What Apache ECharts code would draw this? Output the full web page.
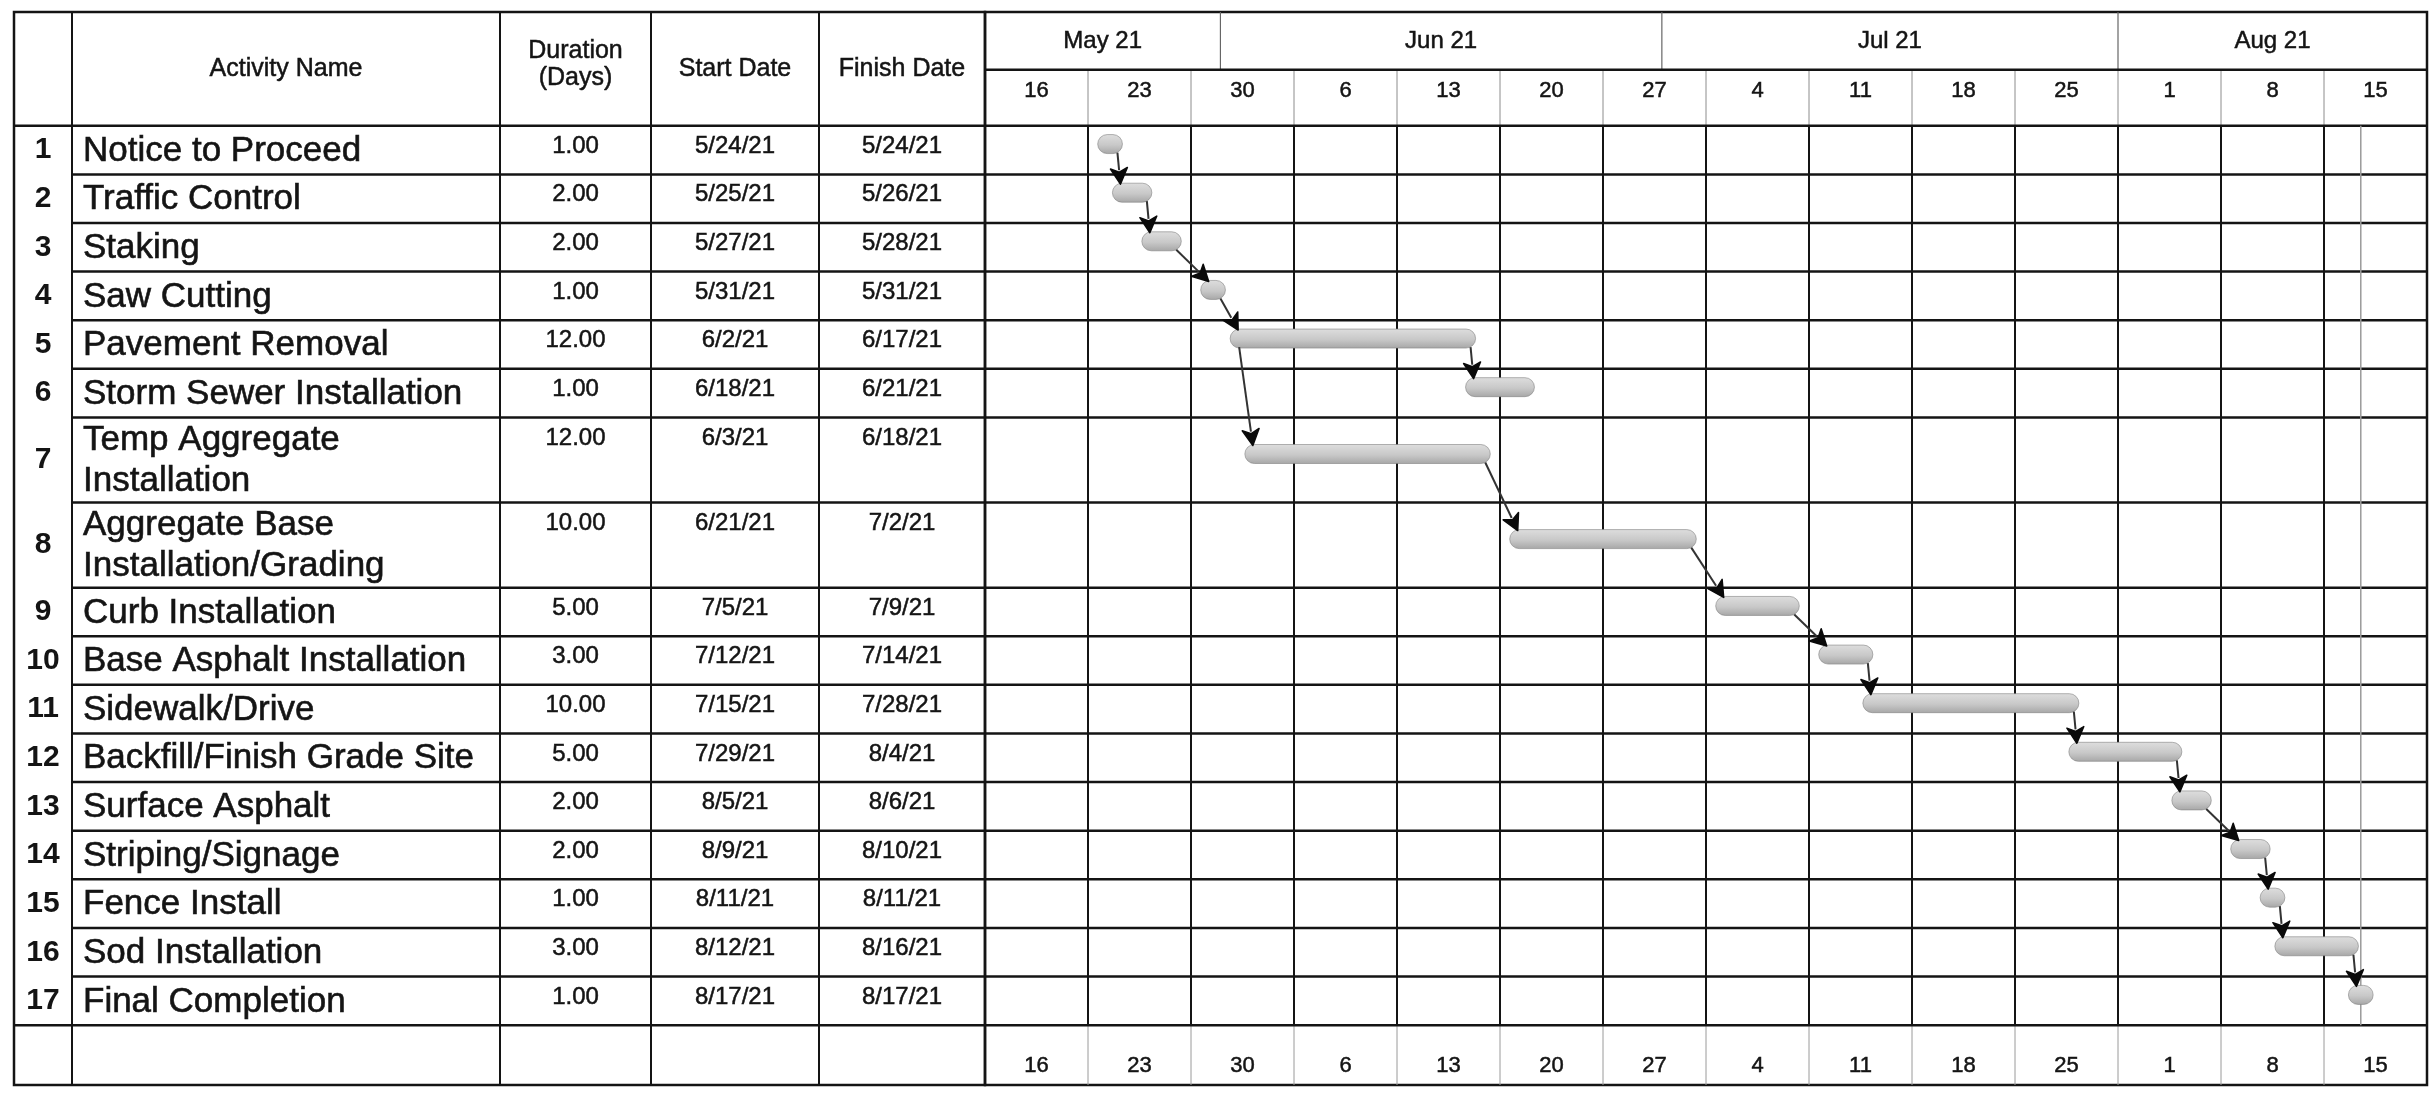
<!DOCTYPE html>
<html>
<head>
<meta charset="utf-8">
<title>Project Schedule</title>
<script src="https://cdn.jsdelivr.net/npm/echarts@6/dist/echarts.min.js"></script>
<style>
  html, body { margin: 0; padding: 0; background: #fff; }
  #chart { width: 2433px; height: 1097px; }
</style>
</head>
<body>
<div id="chart"></div>
<script>
var activityIds = [1, 2, 3, 4, 5, 6, 7, 8, 9, 10, 11, 12, 13, 14, 15, 16, 17];
var activityNames = [
  'Notice to Proceed', 'Traffic Control', 'Staking', 'Saw Cutting', 'Pavement Removal',
  'Storm Sewer Installation', 'Temp Aggregate\nInstallation', 'Aggregate Base\nInstallation/Grading',
  'Curb Installation', 'Base Asphalt Installation', 'Sidewalk/Drive', 'Backfill/Finish Grade Site',
  'Surface Asphalt', 'Striping/Signage', 'Fence Install', 'Sod Installation', 'Final Completion'
];
var durations = [1, 2, 2, 1, 12, 1, 12, 10, 5, 3, 10, 5, 2, 2, 1, 3, 1];
var startDates = ['5/24/21', '5/25/21', '5/27/21', '5/31/21', '6/2/21', '6/18/21', '6/3/21', '6/21/21', '7/5/21',
  '7/12/21', '7/15/21', '7/29/21', '8/5/21', '8/9/21', '8/11/21', '8/12/21', '8/17/21'];
var finishDates = ['5/24/21', '5/26/21', '5/28/21', '5/31/21', '6/17/21', '6/21/21', '6/18/21', '7/2/21', '7/9/21',
  '7/14/21', '7/28/21', '8/4/21', '8/6/21', '8/10/21', '8/11/21', '8/16/21', '8/17/21'];
// predecessor id (0 = none) and link type
var predecessors = [0, 1, 2, 3, 4, 5, 5, 7, 8, 9, 10, 11, 12, 13, 14, 15, 16];
var linkTypes = ['', 'FS', 'FS', 'FS', 'FS', 'FS', 'SS', 'FS', 'FS', 'FS', 'FS', 'FS', 'FS', 'FS', 'FS', 'FS', 'FS'];

var timelineStart = '5/16/21';
var timelineEnd = '8/22/21';
var weekLabels = ['16', '23', '30', '6', '13', '20', '27', '4', '11', '18', '25', '1', '8', '15'];
var monthLabels = ['May 21', 'Jun 21', 'Jul 21', 'Aug 21'];
var monthStarts = ['5/1/21', '6/1/21', '7/1/21', '8/1/21'];
var headerLabels = ['Activity Name', 'Duration\n(Days)', 'Start Date', 'Finish Date'];

// layout
var COL_EDGES = [0, 58, 486, 637, 805, 971];
var MONTH_BAND = 1.19, WEEK_BAND = 1.15, FOOTER_BAND = 1.23, TALL_ROW = 1.75;
var FONT = '"Liberation Sans", Arial, sans-serif';
var INK = '#141414';

function parseDate(s) {
  var p = s.split('/');
  return new Date(2000 + Number(p[2]), Number(p[0]) - 1, Number(p[1]));
}
var T0 = parseDate(timelineStart);
function dayOf(s) {
  return Math.round((parseDate(s) - T0) / 864e5);
}
var DAYS = dayOf(timelineEnd);

var HEADER_H = MONTH_BAND + WEEK_BAND;
var rowHeights = activityNames.map(function (n) { return n.indexOf('\n') >= 0 ? TALL_ROW : 1; });
var rowTops = [];
var acc = HEADER_H;
rowHeights.forEach(function (h) { rowTops.push(acc); acc += h; });
var BODY_END = acc;
var TOTAL = acc + FOOTER_BAND;
var TABLE_W = COL_EDGES[COL_EDGES.length - 1];
var colCenters = COL_EDGES.slice(1).map(function (e, i) { return (e + COL_EDGES[i]) / 2; });
var last = activityIds.length - 1;

function seg(api, a, b, w, c) {
  var p = api.coord(a), q = api.coord(b);
  return { type: 'line', shape: { x1: p[0], y1: p[1], x2: q[0], y2: q[1] }, style: { stroke: c || INK, lineWidth: w } };
}
function label(api, pt, text, opt) {
  var p = api.coord(pt);
  var style = {
    x: p[0], y: p[1], text: text, fill: INK, fontFamily: FONT, align: 'center', verticalAlign: 'middle',
    stroke: INK, lineWidth: 0.5
  };
  for (var k in opt) style[k] = opt[k];
  return { type: 'text', style: style };
}
function barGeom(api, i) {
  var x0 = api.coord([dayOf(startDates[i]), 0])[0] - 5;
  var x1 = api.coord([dayOf(finishDates[i]) + 1, 0])[0] + 5;
  var cy = api.coord([0, rowTops[i] + rowHeights[i] / 2])[1] - 6;
  return { x0: x0, x1: x1, cy: cy, h: 19 };
}

var barFill = new echarts.graphic.LinearGradient(0, 0, 0, 1, [
  { offset: 0, color: '#dedede' }, { offset: 0.55, color: '#c8c8c8' }, { offset: 1, color: '#a6a6a6' }
]);

var chart = echarts.init(document.getElementById('chart'));
chart.setOption({
  backgroundColor: '#fff',
  animation: false,
  grid: [
    { left: 14, top: 12, width: TABLE_W, height: 1073, show: true, borderColor: INK, borderWidth: 2.5 },
    { left: 14 + TABLE_W, top: 12, width: 1442, height: 1073, show: true, borderColor: INK, borderWidth: 2.5 }
  ],
  xAxis: [
    { gridIndex: 0, type: 'value', min: 0, max: TABLE_W, show: false },
    { gridIndex: 1, type: 'value', min: 0, max: DAYS, interval: 7, show: false }
  ],
  yAxis: [
    { gridIndex: 0, type: 'value', inverse: true, min: 0, max: TOTAL, show: false },
    { gridIndex: 1, type: 'value', inverse: true, min: 0, max: TOTAL, show: false }
  ],
  series: [
    {
      // table header and column rules
      type: 'custom', xAxisIndex: 0, yAxisIndex: 0, silent: true, z: 2,
      data: [0],
      renderItem: function (params, api) {
        var kids = [];
        COL_EDGES.slice(1, -1).forEach(function (x) { kids.push(seg(api, [x, 0], [x, TOTAL], 2)); });
        kids.push(seg(api, [0, HEADER_H], [TABLE_W, HEADER_H], 2.5));
        headerLabels.forEach(function (t, k) {
          var multi = t.indexOf('\n') >= 0;
          kids.push(label(api, [colCenters[k + 1], multi ? 1.08 : 1.17], t, { fontSize: 25, lineHeight: 27 }));
        });
        return { type: 'group', children: kids };
      }
    },
    {
      // table rows
      type: 'custom', xAxisIndex: 0, yAxisIndex: 0, silent: true, z: 2,
      data: activityIds.map(function (id, i) { return i; }),
      renderItem: function (params, api) {
        var i = params.dataIndex, top = rowTops[i], h = rowHeights[i];
        var mid = top + h / 2, dy = top + 0.42;
        return {
          type: 'group', children: [
            label(api, [colCenters[0], mid], String(activityIds[i]), { fontSize: 30, fontWeight: 'bold', lineWidth: 0 }),
            label(api, [COL_EDGES[1] + 11, mid + 0.02], activityNames[i], { fontSize: 35, align: 'left', lineHeight: 41, lineWidth: 0.6 }),
            label(api, [colCenters[2], dy], durations[i].toFixed(2), { fontSize: 24 }),
            label(api, [colCenters[3], dy], startDates[i], { fontSize: 24 }),
            label(api, [colCenters[4], dy], finishDates[i], { fontSize: 24 }),
            seg(api, [i === last ? 0 : COL_EDGES[1], top + h], [TABLE_W, top + h], 2.5)
          ]
        };
      }
    },
    {
      // month band
      type: 'custom', xAxisIndex: 1, yAxisIndex: 1, silent: true, z: 2,
      data: monthLabels.map(function (m, i) { return i; }),
      renderItem: function (params, api) {
        var i = params.dataIndex;
        var s = Math.max(0, dayOf(monthStarts[i]));
        var e = i + 1 < monthStarts.length ? dayOf(monthStarts[i + 1]) : DAYS;
        var kids = [label(api, [(s + e) / 2, MONTH_BAND * 0.5], monthLabels[i], { fontSize: 24 })];
        if (s > 0) kids.push(seg(api, [s, 0], [s, MONTH_BAND], 1.2, '#666'));
        return { type: 'group', children: kids };
      }
    },
    {
      // weeks: labels top and bottom, week rules
      type: 'custom', xAxisIndex: 1, yAxisIndex: 1, silent: true, z: 2,
      data: weekLabels.map(function (w, i) { return i * 7; }),
      renderItem: function (params, api) {
        var d = api.value(0), t = weekLabels[params.dataIndex];
        var kids = [
          label(api, [d + 3.5, MONTH_BAND + WEEK_BAND * 0.38], t, { fontSize: 22 }),
          label(api, [d + 3.5, BODY_END + FOOTER_BAND * 0.68], t, { fontSize: 22 })
        ];
        if (d > 0) {
          kids.push(seg(api, [d, MONTH_BAND], [d, HEADER_H], 1, '#8c8c8c'));
          kids.push(seg(api, [d, HEADER_H], [d, BODY_END], 2));
          kids.push(seg(api, [d, BODY_END], [d, TOTAL], 1, '#9a9a9a'));
        }
        return { type: 'group', children: kids };
      }
    },
    {
      // horizontal rules of the timeline
      type: 'custom', xAxisIndex: 1, yAxisIndex: 1, silent: true, z: 2,
      data: [0],
      renderItem: function (params, api) {
        var kids = [seg(api, [0, MONTH_BAND], [DAYS, MONTH_BAND], 2.5), seg(api, [0, HEADER_H], [DAYS, HEADER_H], 2.5)];
        rowTops.forEach(function (t, i) { kids.push(seg(api, [0, t + rowHeights[i]], [DAYS, t + rowHeights[i]], 2.5)); });
        var f = dayOf(finishDates[last]) + 0.5;
        kids.push(seg(api, [f, HEADER_H], [f, BODY_END], 1.5, '#9a9a9a'));
        return { type: 'group', children: kids };
      }
    },
    {
      // activity bars
      type: 'custom', xAxisIndex: 1, yAxisIndex: 1, silent: true, z: 3,
      data: activityIds.map(function (id, i) { return [dayOf(startDates[i]), dayOf(finishDates[i]) + 1, i]; }),
      renderItem: function (params, api) {
        var g = barGeom(api, params.dataIndex);
        return {
          type: 'rect',
          shape: { x: g.x0, y: g.cy - g.h / 2, width: g.x1 - g.x0, height: g.h, r: g.h / 2 },
          style: { fill: barFill, stroke: 'rgba(130,130,130,0.6)', lineWidth: 1 }
        };
      }
    },
    {
      // dependency links
      type: 'custom', xAxisIndex: 1, yAxisIndex: 1, silent: true, z: 4,
      data: activityIds.map(function (id, i) { return i; }).filter(function (i) { return predecessors[i] > 0; }),
      renderItem: function (params, api) {
        var i = api.value(0), p = predecessors[i] - 1;
        var a = barGeom(api, p), b = barGeom(api, i);
        var sx = linkTypes[i] === 'SS' ? a.x0 + 9 : a.x1 - 5;
        var sy = a.cy + a.h / 2 - 1;
        var tx = b.x0 + 8, ty = b.cy - b.h / 2 + 1;
        var dx = tx - sx, dy = ty - sy, len = Math.sqrt(dx * dx + dy * dy) || 1;
        var ux = dx / len, uy = dy / len, L = 16, W = 17;
        var bx = tx - ux * L, by = ty - uy * L;
        return {
          type: 'group', children: [
            { type: 'line', shape: { x1: sx, y1: sy, x2: bx + ux * 2, y2: by + uy * 2 }, style: { stroke: '#333', lineWidth: 2 } },
            {
              type: 'polygon',
              shape: { points: [[tx, ty], [bx - uy * W / 2, by + ux * W / 2], [bx + ux * 4, by + uy * 4], [bx + uy * W / 2, by - ux * W / 2]] },
              style: { fill: '#0a0a0a', stroke: '#0a0a0a', lineWidth: 1.5, lineJoin: 'round' }
            }
          ]
        };
      }
    }
  ]
});
</script>
</body>
</html>
